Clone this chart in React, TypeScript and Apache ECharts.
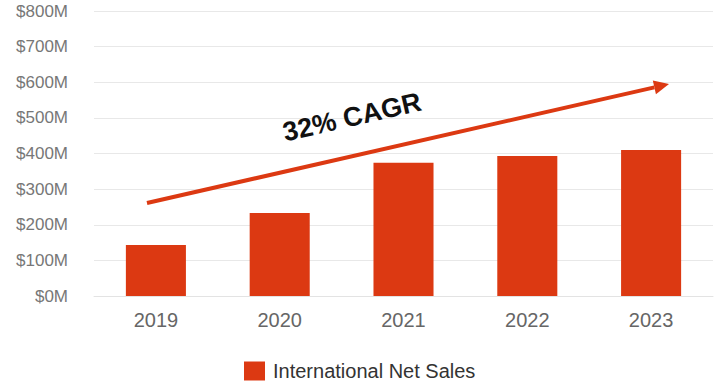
import React, { useEffect, useRef } from "react";
import * as echarts from "echarts";

const years = ["2019", "2020", "2021", "2022", "2023"];
const netSales = [143, 233, 374, 393, 410];
const yTicks = [0, 100, 200, 300, 400, 500, 600, 700, 800];
const seriesName = "International Net Sales";
const cagrLabel = "32% CAGR";

export default function App() {
  const ref = useRef<HTMLDivElement>(null);
  useEffect(() => {
    if (!ref.current) return;
    const chart = echarts.init(ref.current, null, { renderer: "svg" });
    const red = "#DC3912";
    // arrow geometry
    const sx = 147, sy = 203, tx = 669, ty = 84;
    const dx = tx - sx, dy = ty - sy;
    const len = Math.sqrt(dx * dx + dy * dy);
    const ux = dx / len, uy = dy / len;
    const nx = -uy, ny = ux;
    const bx = tx - 15 * ux, by = ty - 15 * uy;
    chart.setOption({
      animation: false,
      textStyle: { fontFamily: "Liberation Sans, Arial, sans-serif" },
      grid: { left: 94, right: 2, top: 11, bottom: 86, containLabel: false },
      legend: {
        data: [seriesName],
        left: 244,
        top: 361,
        itemWidth: 21,
        itemHeight: 19,
        itemGap: 10,
        icon: "rect",
        textStyle: {
          fontSize: 20,
          lineHeight: 20,
          color: "#333333",
          padding: [0, 0, 0, 3],
        },
        padding: 0,
      },
      xAxis: {
        type: "category",
        data: years,
        axisLine: { show: true, lineStyle: { color: "#e3e3e3", width: 1 } },
        axisTick: { show: false },
        axisLabel: { fontSize: 20, color: "#666666", margin: 14 },
      },
      yAxis: {
        type: "value",
        min: yTicks[0],
        max: yTicks[yTicks.length - 1],
        interval: 100,
        axisLine: { show: false },
        axisTick: { show: false },
        splitLine: { lineStyle: { color: "#e8e8e8", width: 1 } },
        axisLabel: {
          fontSize: 17,
          color: "#777777",
          margin: 26,
          formatter: (v: number) => "$" + v + "M",
        },
      },
      series: [
        {
          name: seriesName,
          type: "bar",
          data: netSales,
          barWidth: "48.5%",
          itemStyle: { color: red },
        },
      ],
      graphic: [
        {
          type: "line",
          shape: { x1: sx, y1: sy, x2: bx, y2: by },
          style: { stroke: red, lineWidth: 4 },
          z: 100,
        },
        {
          type: "polygon",
          shape: {
            points: [
              [tx, ty],
              [bx + 7 * nx, by + 7 * ny],
              [bx - 7 * nx, by - 7 * ny],
            ],
          },
          style: { fill: red },
          z: 100,
        },
        {
          type: "text",
          x: 352,
          y: 117,
          rotation: 0.225,
          style: {
            text: cagrLabel,
            fontSize: 27,
            fontWeight: "bold",
            fill: "#111111",
            align: "center",
            verticalAlign: "middle",
            fontFamily: "Liberation Sans, Arial, sans-serif",
          },
          z: 100,
        },
      ],
    });
    return () => chart.dispose();
  }, []);
  return <div ref={ref} style={{ width: 715, height: 382, position: "absolute", left: 0, top: 0 }} />;
}
